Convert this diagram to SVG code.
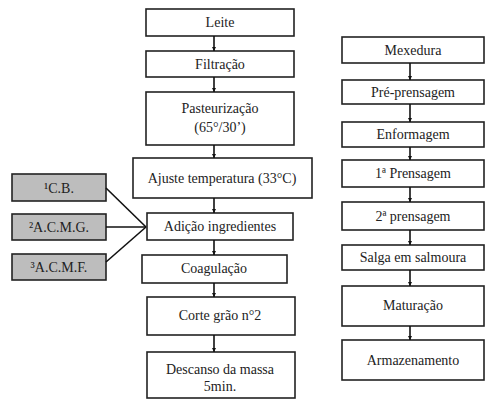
<svg xmlns="http://www.w3.org/2000/svg" width="486" height="403" viewBox="0 0 486 403">
<defs>
<marker id="ah" viewBox="0 0 10 10" refX="10" refY="5" markerWidth="4" markerHeight="4" orient="auto" markerUnits="userSpaceOnUse">
<path d="M0,0 L10,5 L0,10 z" fill="#111"/>
</marker>
<style>
.b{fill:#fff;stroke:#222;stroke-width:1.6}
.g{fill:#bdbdbd;stroke:#222;stroke-width:1.6}
text{font-family:"Liberation Serif","Times New Roman",Times,Tinos,"Noto Serif","Nimbus Roman","FreeSerif","DejaVu Serif",serif;font-size:14px;fill:#222;text-anchor:middle}
.c{stroke:#111;stroke-width:1.6;fill:none}
.a{stroke:#111;stroke-width:1.6;fill:none;marker-end:url(#ah)}
</style>
</defs>
<rect width="486" height="403" fill="#fff"/>
<g id="leite"><rect class="b" x="146" y="9" width="148" height="27"/><text x="220" y="27">Leite</text></g>
<g id="filtracao"><rect class="b" x="146" y="51" width="148" height="26"/><text x="220" y="69">Filtração</text></g>
<g id="pasteurizacao"><rect class="b" x="146" y="92" width="148" height="53"/><text x="220" y="113">Pasteurização</text><text x="220" y="132">(65°/30’)</text></g>
<g id="ajuste"><rect class="b" x="133" y="158" width="179" height="40"/><text x="222" y="183">Ajuste temperatura (33°C)</text></g>
<g id="adicao"><rect class="b" x="147" y="213" width="146" height="27"/><text x="220" y="231">Adição ingredientes</text></g>
<g id="coagulacao"><rect class="b" x="142" y="255" width="145" height="28"/><text x="214" y="273">Coagulação</text></g>
<g id="corte"><rect class="b" x="147" y="297" width="148" height="38"/><text x="220" y="320">Corte grão n°2</text></g>
<g id="descanso"><rect class="b" x="147" y="352" width="148" height="46"/><text x="220" y="374">Descanso da massa</text><text x="220" y="391">5min.</text></g>
<g id="cb"><rect class="g" x="12" y="174" width="94" height="27"/><text x="59" y="193">¹C.B.</text></g>
<g id="acmg"><rect class="g" x="12" y="214" width="94" height="26"/><text x="59" y="232">²A.C.M.G.</text></g>
<g id="acmf"><rect class="g" x="12" y="254" width="94" height="26"/><text x="59" y="272">³A.C.M.F.</text></g>
<g id="mexedura"><rect class="b" x="342" y="37" width="142" height="26"/><text x="413" y="55">Mexedura</text></g>
<g id="preprensagem"><rect class="b" x="342" y="80" width="142" height="24"/><text x="413" y="97">Pré-prensagem</text></g>
<g id="enformagem"><rect class="b" x="342" y="122" width="142" height="25"/><text x="413" y="139">Enformagem</text></g>
<g id="prensagem1"><rect class="b" x="342" y="160" width="142" height="27"/><text x="413" y="178">1ª Prensagem</text></g>
<g id="prensagem2"><rect class="b" x="342" y="202" width="142" height="28"/><text x="413" y="221">2ª prensagem</text></g>
<g id="salga"><rect class="b" x="342" y="245" width="142" height="25"/><text x="413" y="262">Salga em salmoura</text></g>
<g id="maturacao"><rect class="b" x="342" y="286" width="142" height="40"/><text x="413" y="310">Maturação</text></g>
<g id="armazenamento"><rect class="b" x="342" y="340" width="142" height="40"/><text x="413" y="365">Armazenamento</text></g>
<g id="connectors">
<line class="a" x1="214" y1="36" x2="214" y2="51"/>
<line class="a" x1="214" y1="77" x2="214" y2="92"/>
<line class="a" x1="214" y1="145" x2="214" y2="158"/>
<line class="a" x1="214" y1="198" x2="214" y2="213"/>
<line class="a" x1="214" y1="240" x2="214" y2="255"/>
<line class="a" x1="214" y1="283" x2="214" y2="297"/>
<line class="a" x1="214" y1="335" x2="214" y2="352"/>
<line class="c" x1="106" y1="188" x2="146" y2="227"/>
<line class="c" x1="106" y1="227" x2="146" y2="227"/>
<line class="c" x1="106" y1="262" x2="146" y2="227"/>
<line class="a" x1="410" y1="63" x2="410" y2="80"/>
<line class="a" x1="410" y1="104" x2="410" y2="122"/>
<line class="a" x1="410" y1="147" x2="410" y2="160"/>
<line class="a" x1="410" y1="187" x2="410" y2="202"/>
<line class="a" x1="410" y1="230" x2="410" y2="245"/>
<line class="a" x1="410" y1="270" x2="410" y2="286"/>
<line class="a" x1="410" y1="326" x2="410" y2="340"/>
</g>
</svg>
